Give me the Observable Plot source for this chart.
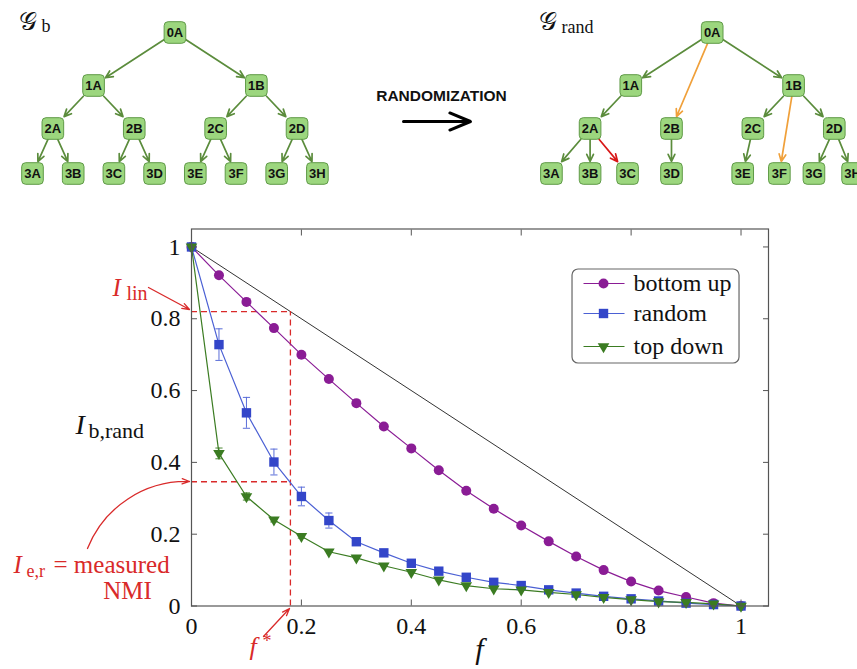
<!DOCTYPE html>
<html><head><meta charset="utf-8">
<script src="https://cdn.jsdelivr.net/npm/d3@7"></script>
<script src="https://cdn.jsdelivr.net/npm/@observablehq/plot@0.6"></script>
<style>
body{margin:0;background:#fff;}
#fig{width:857px;height:669px;position:relative;overflow:hidden;background:#fff;}
#fig svg{display:block;}
</style></head><body><div id="fig"></div>
<script>
// ---------------- data ----------------
const fValues   = [0,0.05,0.1,0.15,0.2,0.25,0.3,0.35,0.4,0.45,0.5,0.55,0.6,0.65,0.7,0.75,0.8,0.85,0.9,0.95,1];
const bottomUp  = [1,0.921,0.847,0.774,0.700,0.632,0.565,0.500,0.439,0.378,0.321,0.271,0.224,0.180,0.138,0.100,0.068,0.043,0.025,0.008,0];
const randomV   = [1,0.728,0.538,0.401,0.305,0.238,0.179,0.148,0.119,0.097,0.080,0.066,0.057,0.045,0.036,0.027,0.020,0.014,0.008,0.004,0];
const randomErr = [0,0.044,0.043,0.036,0.026,0.021,0.010,0.008,0.006,0.005,0.004,0.004,0.003,0.003,0.003,0.002,0.002,0.002,0.002,0.001,0];
const topDown   = [1,0.425,0.305,0.240,0.194,0.151,0.134,0.112,0.094,0.073,0.057,0.048,0.045,0.038,0.032,0.024,0.018,0.012,0.010,0.006,0];
const topDownErr= [0,0.015,0.010,0.006,0.005,0.004,0.003,0.003,0.003,0.002,0.002,0.002,0.002,0.002,0.001,0.001,0.001,0.001,0.001,0.001,0];
const seriesNames = ["bottom up","random","top down"];
const xTicks = [0,0.2,0.4,0.6,0.8,1];
const yTicks = [0,0.2,0.4,0.6,0.8,1];
const linearRefX = [0,1];
const linearRefY = [1,0];
const fStar = 0.18, iLin = 0.82, iER = 0.346;

// tree structure
const treeLevels = [["0A"],["1A","1B"],["2A","2B","2C","2D"],["3A","3B","3C","3D","3E","3F","3G","3H"]];
const randEdges = [["0A","1A"],["0A","1B"],["0A","2B"],["1A","2A"],["1B","2C"],["1B","2D"],["1B","3F"],
                   ["2A","3A"],["2A","3B"],["2A","3C"],["2B","3D"],["2C","3E"],["2D","3G"],["2D","3H"]];
const randEdgeKind = ["kept","kept","moved","kept","kept","kept","moved","kept","kept","rewired","kept","kept","kept","kept"];
const randLeafSlot = [-0.45,0.5,1.42,2.5,4.25,5.15,6.0,6.95];

// ---------------- helpers ----------------
const roundBox = {draw(ctx, size){
  const s = Math.sqrt(size)/2, r = 4;
  ctx.moveTo(-s+r,-s); ctx.lineTo(s-r,-s); ctx.arcTo(s,-s,s,-s+r,r);
  ctx.lineTo(s,s-r); ctx.arcTo(s,s,s-r,s,r);
  ctx.lineTo(-s+r,s); ctx.arcTo(-s,s,-s,s-r,r);
  ctx.lineTo(-s,-s+r); ctx.arcTo(-s,-s,-s+r,-s,r); ctx.closePath();
}};
const triDown = {draw(ctx, size){
  const s = Math.sqrt(size/Math.PI), h = s*Math.sqrt(3);
  ctx.moveTo(-s,-h/3); ctx.lineTo(s,-h/3); ctx.lineTo(0,2*h/3); ctx.closePath();
}};
const hCap = {draw(ctx, size){
  const w = Math.sqrt(size/Math.PI);
  ctx.moveTo(-w,0); ctx.lineTo(w,0);
}};

// ---------------- top panel (trees) ----------------
const kx = 40.7, randShift = 13.2;
const levelRange = [32,85,128,173];           // vertical placement of the four tree levels
const levelPx = d3.scaleLinear([0,1,2,3], levelRange);
const L = py => levelPx.invert(py);
const U = px => (px-32)/kx;
const binPos = (l,i) => (i+0.5)*2**(3-l) - 0.5;
const bNodes = treeLevels.flatMap((names,l)=>names.map((n,i)=>({name:n,L:l,u:binPos(l,i)})));
const bEdges = bNodes.filter(d=>d.L>0).map(d=>{
  const i = treeLevels[d.L].indexOf(d.name);
  const pname = treeLevels[d.L-1][Math.floor(i/2)];
  return {from: bNodes.find(q=>q.name===pname), to: d, kind:"kept"};
});
const rNodes = treeLevels.flatMap((names,l)=>names.map((n,i)=>({name:n,L:l,u:(l===3?randLeafSlot[i]:binPos(l,i))+randShift})));
const rEdges = randEdges.map(([a,b],k)=>({from:rNodes.find(q=>q.name===a), to:rNodes.find(q=>q.name===b), kind:randEdgeKind[k]}));
const allNodes = bNodes.concat(rNodes);
const allEdges = bEdges.concat(rEdges);
const edgeColor = {kept:"#5b8c3c", moved:"#f0a03a", rewired:"#d81818"};
function edgeInset(e){
  const dx=(e.to.u-e.from.u)*kx, dy=levelPx(e.to.L)-levelPx(e.from.L), len=Math.hypot(dx,dy), h=11.5;
  return Math.min(dx ? h/Math.abs(dx) : Infinity, h/Math.abs(dy))*len;
}
const sans = "Liberation Sans, Arial, sans-serif";

const topPlot = Plot.plot({
  width:857, height:200, margin:0,
  style:{background:"transparent"},
  x:{domain:[U(0), U(857)], axis:null},
  y:{type:"linear", domain:[0,1,2,3], range:levelRange, axis:null},
  marks:[
    ...allEdges.map(e=>Plot.arrow([e],{
      x1:d=>d.from.u, y1:d=>d.from.L, x2:d=>d.to.u, y2:d=>d.to.L,
      stroke:edgeColor[e.kind], strokeWidth:1.7, headLength:7, headAngle:50,
      insetStart:edgeInset(e)-1, insetEnd:edgeInset(e)+0.5
    })),
    Plot.dot(allNodes,{x:"u",y:"L",symbol:roundBox,r:12.2,fill:"#9cd67e",stroke:"#5f9a47",strokeWidth:1}),
    Plot.text(allNodes,{x:"u",y:"L",text:"name",fontWeight:"bold",fontSize:13,fontFamily:sans,fill:"#111"}),
    Plot.text(["RANDOMIZATION"],{x:[U(441)],y:[L(100)],text:d=>d,fontWeight:"bold",fontSize:15.5,fontFamily:sans,fill:"#111",lineAnchor:"bottom"}),
    Plot.arrow([0],{x1:U(403),x2:U(470),y1:L(121),y2:L(121),stroke:"#000",strokeWidth:3,headLength:12,headAngle:45}),
    Plot.text(["\u{1D4A2}"],{x:[U(18)],y:[L(29)],text:d=>d,fontSize:25,fontFamily:"DejaVu Serif, DejaVu Sans, serif",textAnchor:"start",lineAnchor:"bottom",fill:"#111"}),
    Plot.text(["b"],{x:[U(41)],y:[L(31)],text:d=>d,fontSize:18,fontFamily:"Liberation Serif, serif",textAnchor:"start",lineAnchor:"bottom",fill:"#111"}),
    Plot.text(["\u{1D4A2}"],{x:[U(538)],y:[L(29)],text:d=>d,fontSize:25,fontFamily:"DejaVu Serif, DejaVu Sans, serif",textAnchor:"start",lineAnchor:"bottom",fill:"#111"}),
    Plot.text(["rand"],{x:[U(561)],y:[L(32)],text:d=>d,fontSize:18,fontFamily:"Liberation Serif, serif",textAnchor:"start",lineAnchor:"bottom",fill:"#111"})
  ]
});

// ---------------- main chart ----------------
const rows = fValues.map((f,i)=>({f, bu:bottomUp[i], r:randomV[i], re:randomErr[i], td:topDown[i], te:topDownErr[i]}));
const cPurple = "#8a1c95", cBlue = "#3346c9", cBlueLine = "#4b60d4", cGreen = "#3b7c22", cRed = "#d92a2a";
const serif = "Liberation Serif, Times New Roman, serif";
const X = px => (px-191)/549.5, Y = py => (605.5-py)/359.05;

// legend
const legendRows = seriesNames.map((name,i)=>({name, y:[Y(283),Y(313),Y(346)][i]}));
const legendColors = [cPurple, cBlueLine, cGreen];
const legendMarkColors = [cPurple, cBlue, cGreen];
const legendSymbols = ["circle","square",triDown];
const legendR = [5,5.3,5.8];

const mainPlot = Plot.plot({
  width:857, height:469, marginTop:28.5, marginBottom:63.5, marginLeft:191, marginRight:89,
  style:{fontFamily:serif, fontSize:"24px", background:"transparent", overflow:"visible", color:"#111"},
  x:{domain:[0,1.05]}, y:{domain:[0,1.05]},
  marks:[
    // reference diagonal
    Plot.line(linearRefX.map((x,i)=>({x,y:linearRefY[i]})),{x:"x",y:"y",stroke:"#333",strokeWidth:1}),
    // red construction lines
    Plot.ruleY([iLin],{x1:0,x2:fStar,stroke:cRed,strokeWidth:1.3,strokeDasharray:"6,4"}),
    Plot.ruleY([iER],{x1:0,x2:fStar,stroke:cRed,strokeWidth:1.3,strokeDasharray:"6,4"}),
    Plot.ruleX([fStar],{y1:0,y2:iLin,stroke:cRed,strokeWidth:1.3,strokeDasharray:"6,4"}),
    // error bars
    Plot.ruleX(rows.filter(d=>d.re>0.004),{x:"f",y1:d=>d.r-d.re,y2:d=>d.r+d.re,stroke:"#5a6dd8",strokeWidth:1}),
    Plot.dot(rows.filter(d=>d.re>0.004),{x:"f",y:d=>d.r-d.re,symbol:hCap,r:3.6,stroke:"#5a6dd8",strokeWidth:1}),
    Plot.dot(rows.filter(d=>d.re>0.004),{x:"f",y:d=>d.r+d.re,symbol:hCap,r:3.6,stroke:"#5a6dd8",strokeWidth:1}),
    Plot.ruleX(rows.filter(d=>d.te>0.004),{x:"f",y1:d=>d.td-d.te,y2:d=>d.td+d.te,stroke:"#4d8a34",strokeWidth:1}),
    Plot.dot(rows.filter(d=>d.te>0.004),{x:"f",y:d=>d.td-d.te,symbol:hCap,r:3.6,stroke:"#4d8a34",strokeWidth:1}),
    Plot.dot(rows.filter(d=>d.te>0.004),{x:"f",y:d=>d.td+d.te,symbol:hCap,r:3.6,stroke:"#4d8a34",strokeWidth:1}),
    // series lines
    Plot.line(rows,{x:"f",y:"bu",stroke:cPurple,strokeWidth:1.2}),
    Plot.line(rows,{x:"f",y:"r",stroke:cBlueLine,strokeWidth:1.2}),
    Plot.line(rows,{x:"f",y:"td",stroke:cGreen,strokeWidth:1.2}),
    // markers
    Plot.dot(rows,{x:"f",y:"bu",symbol:"circle",r:5,fill:cPurple}),
    Plot.dot(rows,{x:"f",y:"r",symbol:"square",r:5.3,fill:cBlue}),
    Plot.dot(rows,{x:"f",y:"td",symbol:triDown,r:5.8,fill:cGreen}),
    // frame & axes
    Plot.frame({stroke:"#555",strokeWidth:1.2}),
    Plot.axisX({anchor:"bottom",ticks:xTicks,tickSize:-6,tickPadding:17,tickFormat:d=>String(d),label:null,fontSize:24,stroke:"#555",fill:"#111"}),
    Plot.axisX({anchor:"top",ticks:xTicks,tickSize:-6,tickFormat:()=>"",label:null,stroke:"#555"}),
    Plot.axisY({anchor:"left",ticks:yTicks,tickSize:-6,tickPadding:17,tickFormat:d=>String(d),label:null,fontSize:24,stroke:"#555",fill:"#111"}),
    Plot.axisY({anchor:"right",ticks:yTicks,tickSize:-6,tickFormat:()=>"",label:null,stroke:"#555"}),
    // legend
    Plot.rect([0],{x1:X(572),x2:X(739),y1:Y(363),y2:Y(269),rx:6,fill:"white",stroke:"#666",strokeWidth:1.2}),
    ...legendRows.flatMap((d,i)=>[
      Plot.link([d],{x1:X(583),x2:X(624),y1:"y",y2:"y",stroke:legendColors[i],strokeWidth:1.2}),
      Plot.dot([d],{x:X(603),y:"y",symbol:legendSymbols[i],r:legendR[i],fill:legendMarkColors[i]}),
      Plot.text([d],{x:X(633),y:"y",text:"name",textAnchor:"start",fontSize:24,fontFamily:serif,fill:"#111"})
    ]),
    // axis titles
    Plot.text(["I"],{x:X(75),y:Y(433),text:d=>d,fontStyle:"italic",fontSize:28,textAnchor:"start",lineAnchor:"bottom",fill:"#111"}),
    Plot.text(["b,rand"],{x:X(75),y:Y(433),dx:13,dy:4,text:d=>d,fontSize:22,textAnchor:"start",lineAnchor:"bottom",fill:"#111"}),
    Plot.text(["f"],{x:X(479),y:Y(659),text:d=>d,fontStyle:"italic",fontSize:30,textAnchor:"middle",lineAnchor:"bottom",fill:"#111"}),
    // annotations
    Plot.text(["I"],{x:X(112),y:Y(295),text:d=>d,fontStyle:"italic",fontSize:25,textAnchor:"start",lineAnchor:"bottom",fill:cRed}),
    Plot.text(["lin"],{x:X(112),y:Y(295),dx:14,dy:4,text:d=>d,fontSize:20,textAnchor:"start",lineAnchor:"bottom",fill:cRed}),
    Plot.arrow([0],{x1:X(148),y1:Y(287),x2:X(189),y2:Y(309),stroke:cRed,strokeWidth:1.3,headLength:9,headAngle:40}),
    Plot.text(["I"],{x:X(13),y:Y(572),text:d=>d,fontStyle:"italic",fontSize:25,textAnchor:"start",lineAnchor:"bottom",fill:cRed}),
    Plot.text(["e,r"],{x:X(13),y:Y(572),dx:13,dy:4,text:d=>d,fontSize:18,textAnchor:"start",lineAnchor:"bottom",fill:cRed}),
    Plot.text(["= measured"],{x:X(53),y:Y(572),text:d=>d,fontSize:25,textAnchor:"start",lineAnchor:"bottom",fill:cRed}),
    Plot.text(["NMI"],{x:X(127),y:Y(598),text:d=>d,fontSize:25,textAnchor:"middle",lineAnchor:"bottom",fill:cRed}),
    Plot.arrow([0],{x1:X(87),y1:Y(548),x2:X(189),y2:Y(481),bend:35,stroke:cRed,strokeWidth:1.3,headLength:9,headAngle:40}),
    Plot.text(["f"],{x:X(249),y:Y(655),text:d=>d,fontStyle:"italic",fontSize:26,textAnchor:"start",lineAnchor:"bottom",fill:cRed}),
    Plot.text(["*"],{x:X(249),y:Y(655),dx:13,dy:-8,text:d=>d,fontSize:18,textAnchor:"start",lineAnchor:"bottom",fill:cRed}),
    Plot.arrow([0],{x1:X(263),y1:Y(636),x2:X(289),y2:Y(608),stroke:cRed,strokeWidth:1.3,headLength:9,headAngle:40})
  ]
});

const fig = document.getElementById("fig");
fig.appendChild(topPlot);
fig.appendChild(mainPlot);
</script>
</body></html>
